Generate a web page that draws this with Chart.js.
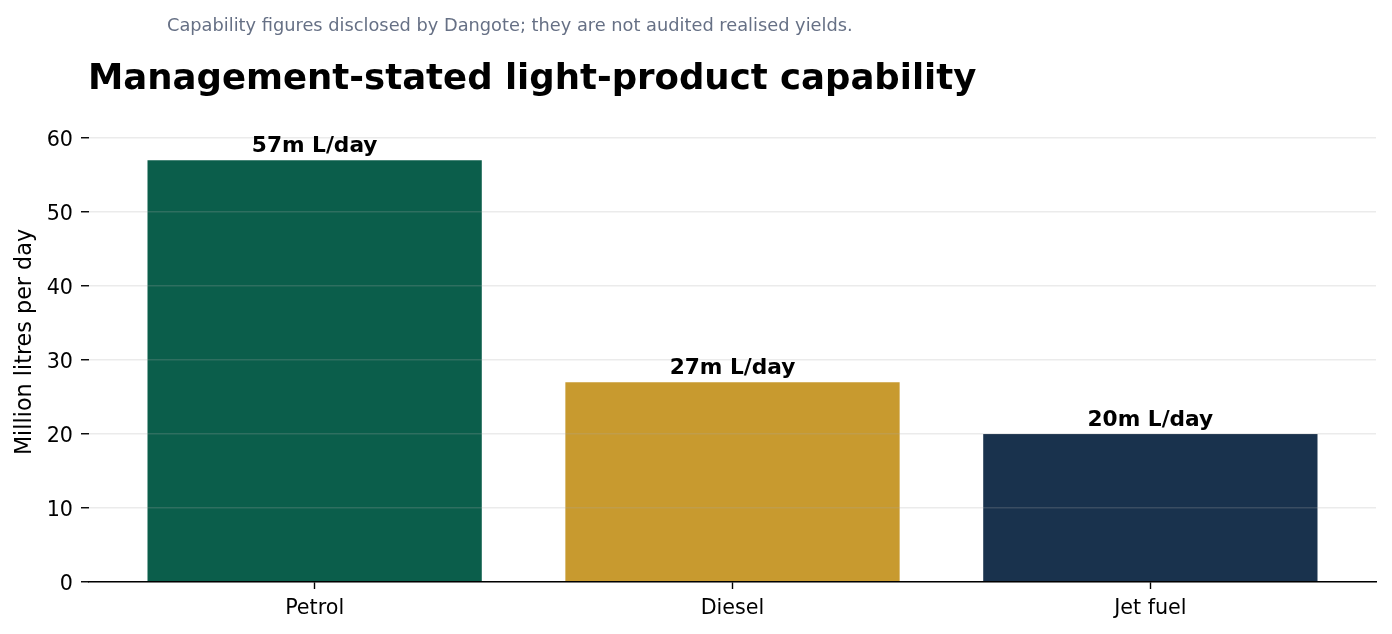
<!DOCTYPE html>
<html>
<head>
<meta charset="utf-8">
<script src="https://cdn.jsdelivr.net/npm/chart.js@4.4.1/dist/chart.umd.min.js"></script>
<style>
  html, body { margin: 0; padding: 0; background: #ffffff; }
  #wrap { width: 1392px; height: 634px; }
</style>
</head>
<body>
<div id="wrap"><canvas id="c" width="1392" height="634"></canvas></div>
<script>
const categories = ['Petrol', 'Diesel', 'Jet fuel'];
const values = [57, 27, 20];
const valueLabels = ['57m L/day', '27m L/day', '20m L/day'];
const barColors = ['#0b5e4b', '#c89a2f', '#19324d'];
const yTicks = [0, 10, 20, 30, 40, 50, 60];
const titleText = 'Management-stated light-product capability';
const subtitleText = 'Capability figures disclosed by Dangote; they are not audited realised yields.';
const yAxisLabel = 'Million litres per day';

const FONT = "'DejaVu Sans', sans-serif";

const textPlugin = {
  id: 'textPlugin',
  afterDraw(chart) {
    const ctx = chart.ctx;
    ctx.save();
    ctx.textBaseline = 'alphabetic';
    ctx.fillStyle = '#667085';
    ctx.font = '17.8px ' + FONT;
    ctx.textAlign = 'left';
    ctx.fillText(subtitleText, 167, 31);
    ctx.fillStyle = '#000000';
    ctx.font = 'bold 35.5px ' + FONT;
    ctx.fillText(titleText, 88, 89);
    ctx.font = 'bold 21.7px ' + FONT;
    ctx.textAlign = 'center';
    const meta = chart.getDatasetMeta(0);
    meta.data.forEach((bar, i) => {
      ctx.fillText(valueLabels[i], bar.x, bar.y - 8);
    });
    ctx.restore();
  }
};

new Chart(document.getElementById('c'), {
  type: 'bar',
  data: {
    datasets: [{
      data: categories.map((c, i) => ({ x: i, y: values[i] })),
      backgroundColor: barColors,
      borderWidth: 0,
      barPercentage: 0.8,
      categoryPercentage: 1.0
    }]
  },
  options: {
    responsive: false,
    animation: false,
    devicePixelRatio: 1,
    layout: { padding: { top: 102, right: 16, left: 0, bottom: 0 } },
    plugins: { legend: { display: false }, tooltip: { enabled: false } },
    scales: {
      x: {
        type: 'linear',
        min: -0.54,
        max: 2.54,
        offset: false,
        afterBuildTicks: s => { s.ticks = categories.map((c, i) => ({ value: i })); },
        afterFit: s => { s.height = 52; },
        grid: {
          offset: false,
          z: 2,
          drawOnChartArea: false,
          drawTicks: true,
          tickLength: 7,
          tickColor: '#000000',
          tickWidth: 1.4
        },
        border: { display: true, color: '#000000', width: 1.4, z: 3 },
        ticks: {
          callback: v => categories[v],
          font: { family: FONT, size: 20.7 },
          color: '#000000',
          padding: 7,
          maxRotation: 0,
          autoSkip: false
        }
      },
      y: {
        type: 'linear',
        min: 0,
        max: 64.86,
        afterBuildTicks: s => { s.ticks = yTicks.map(v => ({ value: v })); },
        afterFit: s => { s.width = 89; },
        grid: {
          z: 1,
          color: 'rgba(170,170,170,0.23)',
          lineWidth: 1.5,
          drawTicks: true,
          tickLength: 8,
          tickColor: '#000000',
          tickWidth: 1.4
        },
        border: { display: false, z: 2 },
        ticks: {
          font: { family: FONT, size: 20.7 },
          color: '#000000',
          padding: 8,
          labelOffset: 2.5
        },
        title: {
          display: true,
          text: yAxisLabel,
          font: { family: FONT, size: 22.3 },
          color: '#000000',
          padding: { top: 12, bottom: 0 }
        }
      }
    }
  },
  plugins: [textPlugin]
});
</script>
</body>
</html>
